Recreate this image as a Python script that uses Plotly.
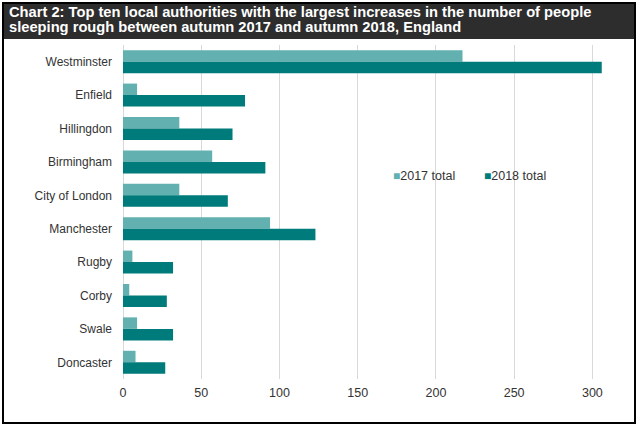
import plotly.graph_objects as go

authorities = ["Westminster", "Enfield", "Hillingdon", "Birmingham", "City of London",
               "Manchester", "Rugby", "Corby", "Swale", "Doncaster"]
total_2017 = [217, 9, 36, 57, 36, 94, 6, 4, 9, 8]
total_2018 = [306, 78, 70, 91, 67, 123, 32, 28, 32, 27]
x_ticks = [0, 50, 100, 150, 200, 250, 300]
series_names = ["2017 total", "2018 total"]
series_colors = ["#62b0b0", "#007b7b"]
title_lines = ["Chart 2: Top ten local authorities with the largest increases in the number of people",
               "sleeping rough between autumn 2017 and autumn 2018, England"]

FONT = "Liberation Sans, Arial, sans-serif"
L, R, T, B = 123, 32, 45, 51
W, H = 640, 430

fig = go.Figure()
for name, vals, col in zip(series_names, [total_2017, total_2018], series_colors):
    fig.add_trace(go.Bar(y=authorities, x=vals, orientation="h", name=name,
                         marker=dict(color=col, line=dict(width=0)), showlegend=False))

fig.update_layout(
    template="none",
    width=W, height=H,
    margin=dict(l=L, r=R, t=T, b=B, autoexpand=False),
    paper_bgcolor="white", plot_bgcolor="white",
    barmode="group", bargap=0.31, bargroupgap=0,
    font=dict(family=FONT, size=12, color="#333333"),
    showlegend=False,
    xaxis=dict(range=[0, 310], tickvals=x_ticks, showgrid=True, gridcolor="#d9d9d9",
               gridwidth=1, zeroline=True, zerolinecolor="#d9d9d9", zerolinewidth=1,
               showline=False, ticks="", automargin=False, ticklabelstandoff=4,
               tickfont=dict(size=12.5, color="#333333")),
    yaxis=dict(autorange="reversed", showgrid=False, showline=False, ticks="",
               ticklabelstandoff=10, automargin=False, zeroline=False,
               tickfont=dict(size=12, color="#333333")),
)

plot_w = W - L - R
plot_h = H - T - B
def px_x(p):
    return (p - L) / plot_w
def px_y(p):
    return (H - B - p) / plot_h

fig.layout.shapes = [
    dict(type="rect", xref="paper", yref="paper", x0=px_x(3), x1=px_x(636), y0=px_y(3), y1=px_y(39),
         line=dict(width=0), fillcolor="#2d2d2d", layer="above"),
    dict(type="rect", xref="paper", yref="paper", x0=px_x(3), x1=px_x(635), y0=px_y(423), y1=px_y(3),
         line=dict(color="black", width=2), fillcolor="rgba(0,0,0,0)", layer="above"),
]

for line, ypx in zip(title_lines, [12.5, 27.5]):
    fig.add_annotation(
        xref="paper", yref="paper", x=px_x(7), y=px_y(ypx), xanchor="left", yanchor="middle",
        align="left", showarrow=False, text=f"<b>{line}</b>",
        font=dict(family=FONT, size=14.7, color="white"),
    )

# legend entries
for name, col, xpx in zip(series_names, series_colors, [391, 482]):
    fig.add_annotation(
        xref="paper", yref="paper", x=px_x(xpx), y=px_y(176), xanchor="left", yanchor="middle",
        showarrow=False,
        text=f"<span style='color:{col};font-size:12px'>■</span>{name}",
        font=dict(family=FONT, size=12.5, color="#333333"),
    )

fig.write_html("out.html", post_script="document.body.style.margin='0';",
               config={"displayModeBar": False})
